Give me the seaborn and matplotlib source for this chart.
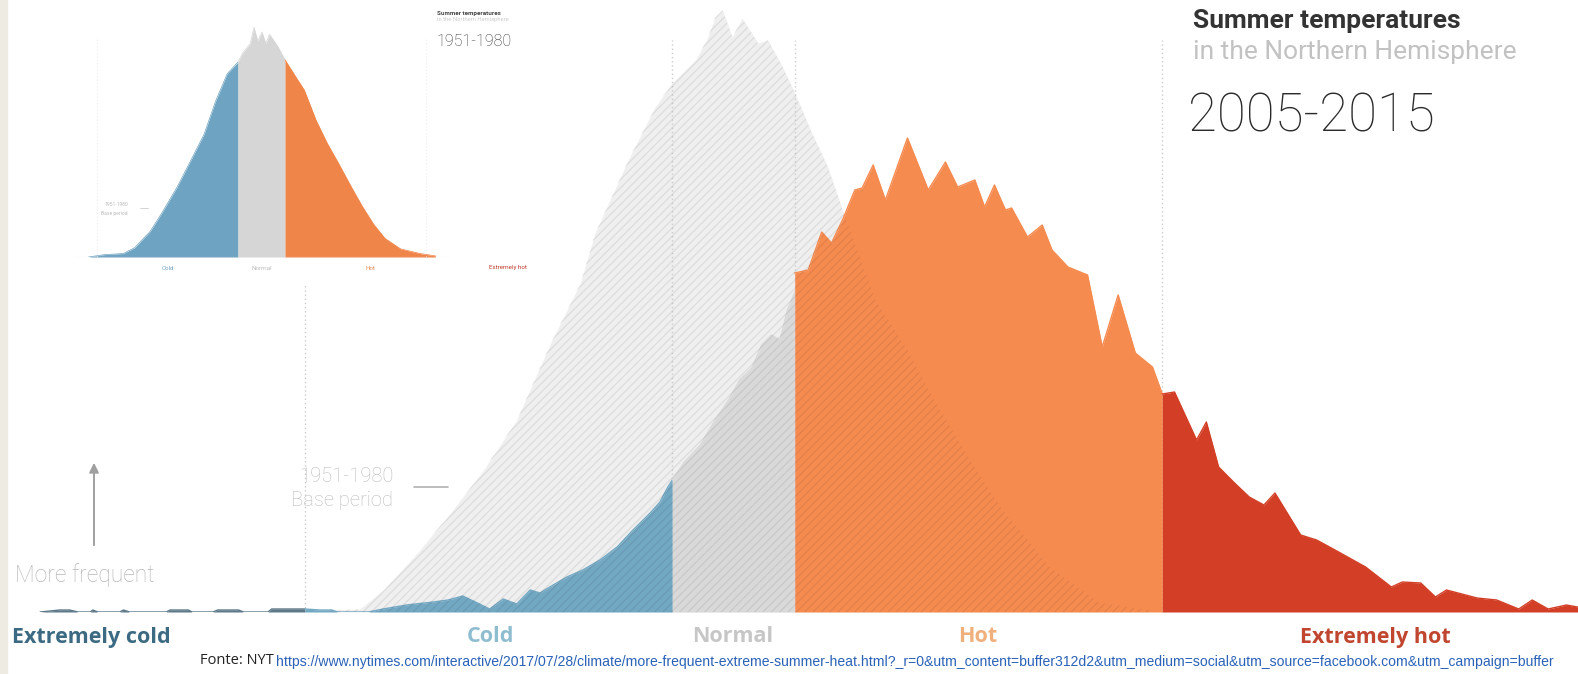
import matplotlib
matplotlib.use('Agg')
import matplotlib.pyplot as plt
import seaborn as sns

# x: temperature anomaly in standard deviations of the 1951-1980 base period
# y: relative frequency (arbitrary units)

# 2005-2015, split by band
xcold_x = [-5.66, -5.50, -5.42, -5.35, -5.25, -5.23, -5.19, -5.01, -4.98, -4.93, -4.63, -4.60,
           -4.45, -4.42, -4.25, -4.21, -4.04, -4.00, -3.80, -3.77, -3.54, -3.50]
xcold_y = [0, 2, 2, 0, 0, 2, 0, 0, 2, 0, 0, 2, 2, 0, 0, 2, 2, 0, 0, 3, 3, 3]

cold_x = [-3.50, -3.38, -3.28, -3.23, -2.98, -2.86, -2.67, -2.45, -2.33, -2.21, -2.09, -1.99,
          -1.88, -1.77, -1.66, -1.58, -1.50, -1.36, -1.23, -1.09, -0.95, -0.82, -0.68, -0.60,
          -0.54, -0.50]
cold_y = [3, 2, 2, 0, 0, 3, 7, 10, 12, 16, 9, 3, 13, 8, 22, 19, 25, 35, 42, 52, 65, 82, 99, 110,
          124, 132]

normal_x = [-0.50, -0.40, -0.27, -0.15, -0.04, 0.05, 0.15, 0.23, 0.31, 0.38, 0.44, 0.50]
normal_y = [132, 150, 167, 192, 212, 232, 244, 267, 277, 272, 302, 320]

hot_x = [0.50, 0.61, 0.72, 0.80, 0.89, 0.99, 1.05, 1.14, 1.24, 1.42, 1.59, 1.73, 1.83, 1.97,
         2.05, 2.13, 2.22, 2.27, 2.40, 2.52, 2.60, 2.73, 2.79, 2.89, 3.01, 3.14, 3.28, 3.42, 3.50]
hot_y = [339, 342, 380, 369, 392, 422, 424, 447, 412, 474, 422, 450, 425, 432, 405, 427, 402,
         404, 375, 387, 362, 345, 342, 337, 265, 317, 259, 245, 218]

xhot_x = [3.50, 3.60, 3.78, 3.86, 3.96, 4.09, 4.21, 4.33, 4.42, 4.63, 4.76, 4.91, 5.16, 5.37,
          5.46, 5.61, 5.73, 5.82, 6.07, 6.23, 6.41, 6.52, 6.65, 6.80, 6.89]
xhot_y = [218, 220, 172, 190, 145, 129, 115, 107, 119, 77, 72, 62, 45, 25, 30, 29, 15, 22, 14,
          12, 3, 12, 3, 7, 5]

# 1951-1980 base period
base_x = [-3.29, -3.05, -2.86, -2.58, -2.31, -2.04, -1.77, -1.50, -1.25, -1.13, -0.86, -0.64,
          -0.50, -0.31, -0.22, -0.15, -0.09, -0.01, 0.07, 0.20, 0.28, 0.40, 0.50, 0.64, 0.77,
          0.89, 1.16, 1.42, 1.64, 1.93, 2.18, 2.58, 2.99, 3.40]
base_y = [2, 3, 22, 59, 99, 142, 192, 267, 329, 379, 452, 505, 529, 552, 572, 595, 602, 575,
          594, 569, 572, 545, 519, 479, 445, 402, 312, 262, 212, 152, 105, 45, 9, 2]

# small inset: 1951-1980 distribution (peak = 1)
in_cold_x = [-3.68, -3.35, -2.94, -2.70, -2.37, -2.12, -1.80, -1.47, -1.22, -0.98, -0.73, -0.50]
in_cold_y = [0, 0.01, 0.015, 0.04, 0.11, 0.19, 0.30, 0.43, 0.53, 0.67, 0.79, 0.84]
in_normal_x = [-0.50, -0.40, -0.24, -0.16, -0.08, 0.01, 0.09, 0.17, 0.34, 0.50]
in_normal_y = [0.84, 0.88, 0.92, 0.99, 0.93, 0.97, 0.92, 0.96, 0.91, 0.85]
in_hot_x = [0.50, 0.75, 0.91, 1.16, 1.40, 1.65, 1.89, 2.14, 2.39, 2.63, 2.96, 3.37, 3.70]
in_hot_y = [0.85, 0.77, 0.72, 0.59, 0.49, 0.40, 0.31, 0.22, 0.14, 0.08, 0.035, 0.015, 0.005]

band_edges = [-3.5, -0.5, 0.5, 3.5]
band_labels = ['Extremely cold', 'Cold', 'Normal', 'Hot', 'Extremely hot']
url = ('https://www.nytimes.com/interactive/2017/07/28/climate/more-frequent-extreme-summer-heat.html?'
       '_r=0&utm_content=buffer312d2&utm_medium=social&utm_source=facebook.com&utm_campaign=buffer')

W, H = 1578, 674


def fx(px):
    return px / W


def fy(py):
    return 1 - py / H


sns.set_theme(style='white')
plt.rcParams['font.family'] = ['Roboto', 'DejaVu Sans']
plt.rcParams['hatch.linewidth'] = 0.9

fig = plt.figure(figsize=(W / 100, H / 100), dpi=100)
fig.patch.set_facecolor('white')
fig.patches.append(plt.Rectangle((0, 0), fx(7), 1, transform=fig.transFigure,
                                 color='#eeebe2', zorder=0))

# ---- main chart
ax = fig.add_axes([0, fy(612), 1, 612 / H])
ax.set_xlim(-733.5 / 122.5, (W - 733.5) / 122.5)
ax.set_ylim(0, 612)
ax.axis('off')

ax.fill_between(base_x, base_y, color='#efefef', lw=0, zorder=1)
ax.vlines([band_edges[0]], 0, 327, colors='#cccccc', linestyles=(0, (1, 2)), lw=1, zorder=1.5)
ax.vlines(band_edges[1:], 0, 572, colors='#cccccc', linestyles=(0, (1, 2)), lw=1, zorder=1.5)

bands = [(xcold_x, xcold_y, '#5d7888'), (cold_x, cold_y, '#73a8c3'),
         (normal_x, normal_y, '#d9d9d9'), (hot_x, hot_y, '#f68b50'),
         (xhot_x, xhot_y, '#d33f26')]
for bx, by, col in bands:
    ax.fill_between(bx, by, color=col, lw=0, zorder=2)
    sns.lineplot(x=bx, y=by, color=col, lw=1.0, ax=ax, zorder=2, sort=False,
                 solid_joinstyle='round')

# hatch of the base period drawn over everything
ax.fill_between(base_x, base_y, facecolor='none', edgecolor=(0, 0, 0, 0.08),
                hatch='////', lw=0, zorder=3)

# ---- inset
ax2 = fig.add_axes([fx(60), fy(257), 500 / W, 247 / H])
ax2.set_xlim((60 - 261.5) / 47, (560 - 261.5) / 47)
ax2.set_ylim(0, 247 / 232)
ax2.axis('off')
ax2.vlines([-3.5, 3.5], 0, 0.95, colors='#eeeeee', linestyles=(0, (1, 2)), lw=0.8)
ax2.axhline(0, xmin=0.03, xmax=0.78, color='#e6e6e6', lw=0.8)
for bx, by, col in [(in_cold_x, in_cold_y, '#6ea3c1'), (in_normal_x, in_normal_y, '#d6d6d6'),
                    (in_hot_x, in_hot_y, '#ef8549')]:
    ax2.fill_between(bx, by, color=col, lw=0)
    sns.lineplot(x=bx, y=by, color=col, lw=0.5, ax=ax2, sort=False)

fig.text(fx(437), fy(13), 'Summer temperatures', fontsize=4.5, fontweight='bold',
         color='#444444', va='center')
fig.text(fx(437), fy(19), 'in the Northern Hemisphere', fontsize=4.2, color='#cccccc',
         va='center')
fig.text(fx(437), fy(41), '1951-1980', fontsize=11.5, color='#333333', va='center',
         fontweight='light')
fig.text(fx(128), fy(204), '1951-1980', fontsize=3.6, color='#bbbbbb', va='center', ha='right')
fig.text(fx(128), fy(213), 'Base period', fontsize=3.6, color='#bbbbbb', va='center', ha='right')
fig.add_artist(plt.Line2D([fx(140), fx(148)], [fy(208), fy(208)], color='#cccccc', lw=0.6))
for lab, px, col in [('Cold', 168, '#6ea3c1'), ('Normal', 262, '#bbbbbb'), ('Hot', 370, '#e8884f'),
                     ('Extremely hot', 508, '#c0392b')]:
    fig.text(fx(px), fy(268), lab, fontsize=4.5, color=col, ha='center', va='center')

# ---- main annotations
fig.text(fx(1193), fy(21), 'Summer temperatures', fontsize=19, fontweight='bold',
         color='#333333', va='center')
fig.text(fx(1193), fy(52), 'in the Northern Hemisphere', fontsize=19, color='#c2c2c2',
         va='center')
fig.text(fx(1188), fy(117), '2005-2015', fontsize=38, color='#2a2a2a', va='center',
         fontweight='light')
fig.text(fx(15), fy(575), 'More frequent', fontsize=16.5, color='#b5b5b5', va='center',
         fontweight='light')
ax.annotate('', xy=(fx(94), fy(460)), xytext=(fx(94), fy(548)), xycoords='figure fraction',
            textcoords='figure fraction',
            arrowprops=dict(arrowstyle='-|>', color='#a0a0a0', lw=1.4, mutation_scale=14))
fig.text(fx(393), fy(476), '1951-1980', fontsize=14.5, color='#bdbdbd', va='center',
         ha='right', fontweight='light')
fig.text(fx(393), fy(501), 'Base period', fontsize=14.5, color='#bdbdbd', va='center',
         ha='right', fontweight='light')
fig.add_artist(plt.Line2D([fx(414), fx(448)], [fy(487), fy(487)], color='#b0b0b0', lw=1.2))

label_pos = [(12, 'left'), (490, 'center'), (733, 'center'), (978, 'center'), (1375, 'center')]
label_cols = ['#3b6a82', '#8fbdd0', '#c6c6c6', '#f0b07c', '#c0462f']
for lab, (px, ha), col in zip(band_labels, label_pos, label_cols):
    fig.text(fx(px), fy(637), lab, fontsize=15.5, fontweight='bold', color=col, ha=ha,
             va='center', family=['Open Sans', 'DejaVu Sans'])

fig.text(fx(200), fy(661), 'Fonte: NYT', fontsize=10.5, color='#222222', va='center',
         family=['Open Sans', 'DejaVu Sans'])
t = fig.text(fx(276), fy(662), url, fontsize=7, color='#2a62b8', va='center',
             family=['Liberation Sans', 'DejaVu Sans'])
fig.canvas.draw()
w = t.get_window_extent().width
t.set_fontsize(7 * 1267 / w)

fig.savefig('out.png', dpi=100)
